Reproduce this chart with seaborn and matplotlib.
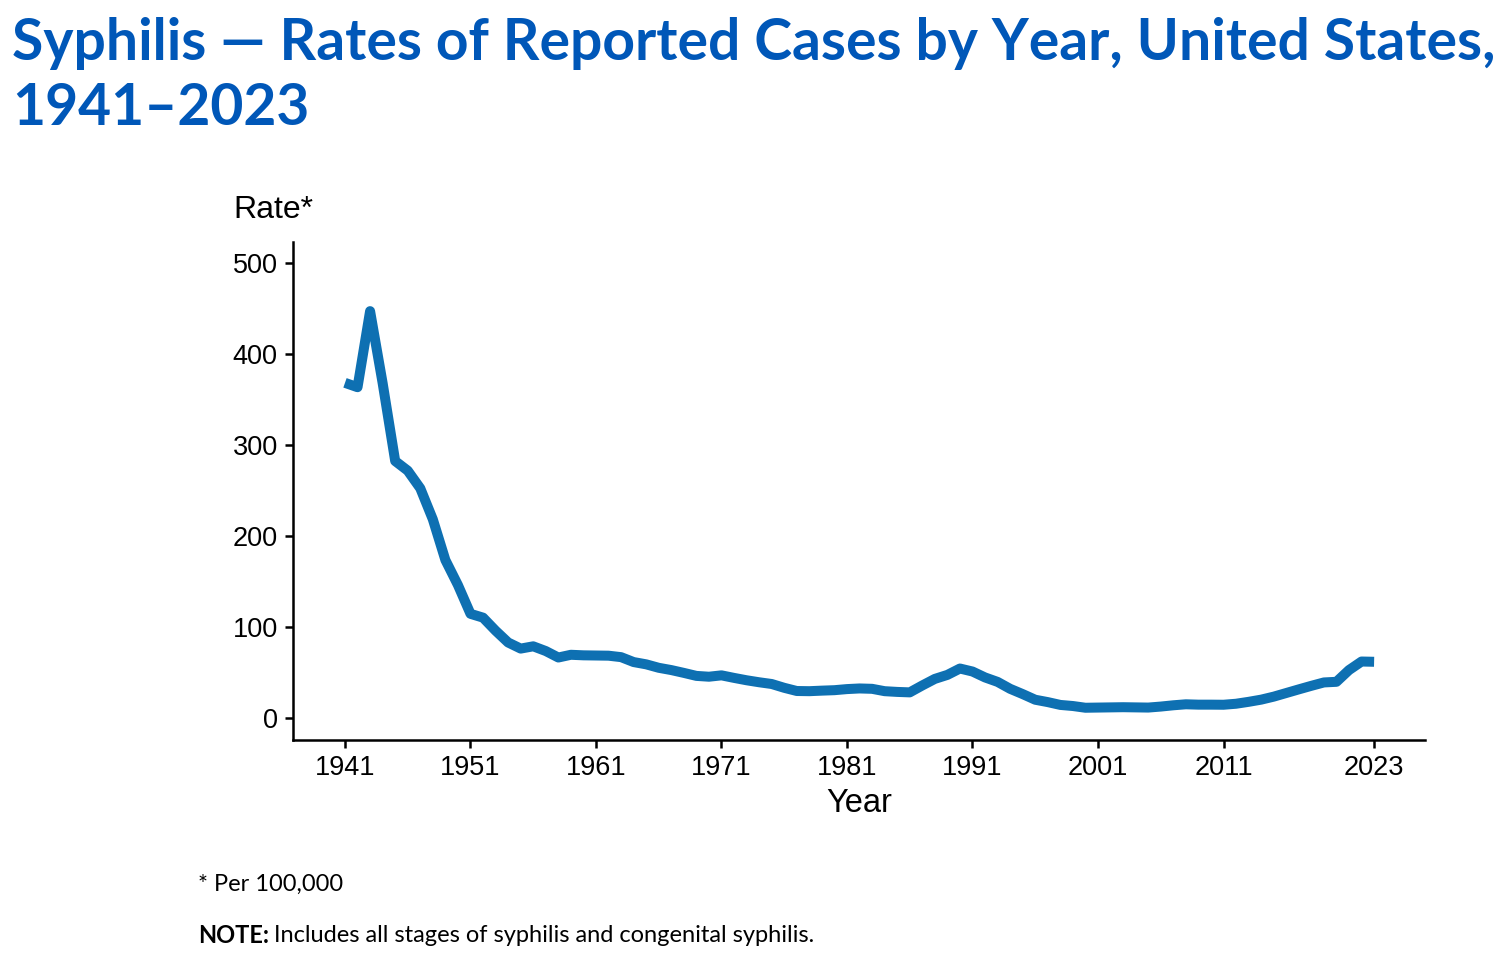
import matplotlib
matplotlib.use("Agg")
import matplotlib.pyplot as plt
import seaborn as sns
import pandas as pd

# Syphilis, all stages, rate per 100,000
years = list(range(1941, 2024))
rates = [368.2, 363.4, 447.0, 367.9, 282.3, 271.7, 252.3, 218.2, 173.5, 146.0,
         114.4, 110.2, 95.9, 82.9, 76.2, 78.7, 73.5, 66.4, 69.4, 68.8,
         68.6, 68.4, 66.8, 61.4, 58.9, 55.1, 52.6, 49.5, 46.2, 45.3,
         46.8, 44.0, 41.4, 39.2, 37.3, 33.1, 29.6, 29.4, 30.0, 30.5,
         31.7, 32.4, 32.0, 29.4, 28.6, 28.1, 35.7, 42.9, 47.3, 54.3,
         51.0, 44.5, 39.6, 32.0, 26.2, 20.0, 17.4, 14.3, 13.1, 11.2,
         11.4, 11.6, 11.8, 11.6, 11.4, 12.5, 13.9, 15.0, 14.6, 14.6,
         14.5, 15.6, 17.7, 20.1, 23.4, 27.4, 31.4, 35.3, 39.0, 39.7,
         52.6, 62.0, 61.7]
x_ticks = [1941, 1951, 1961, 1971, 1981, 1991, 2001, 2011, 2023]
y_ticks = [0, 100, 200, 300, 400, 500]

df = pd.DataFrame({"Year": years, "Rate": rates})

sns.set_theme(style="ticks")
plt.rcParams['font.family'] = ['Liberation Sans', 'DejaVu Sans']

fig = plt.figure(figsize=(15.12, 9.64), dpi=100)
ax = fig.add_axes([0.1938, 0.2324, 0.7487, 0.5166])

sns.lineplot(data=df, x="Year", y="Rate", ax=ax, color="#0E70B2", linewidth=7.2,
             solid_capstyle="butt", solid_joinstyle="round")

ax.set_xlim(1936.86, 2027.06)
ax.set_ylim(-24.2, 523)
ax.set_xticks(x_ticks)
ax.set_yticks(y_ticks)
ax.tick_params(axis="both", labelsize=19.5, length=6, width=1.8, color="black",
               labelcolor="black", direction="out", pad=5)
for s in ["left", "bottom"]:
    ax.spines[s].set_linewidth(1.8)
    ax.spines[s].set_color("black")
sns.despine(ax=ax)

ax.set_xlabel("Year", fontsize=23.5, labelpad=5, color="black")
ax.set_ylabel("")
fig.text(0.1545, 0.782, "Rate*", fontsize=23, color="black", ha="left", va="center")

title_font = ['Lato', 'DejaVu Sans']
fig.text(0.008, 0.955, "Syphilis \u2014 Rates of Reported Cases by Year, United States,",
         fontsize=41, fontweight="bold", color="#0057B8", family=title_font,
         ha="left", va="center")
fig.text(0.008, 0.887, "1941\u20132023", fontsize=41, fontweight="bold",
         color="#0057B8", family=title_font, ha="left", va="center")

fig.text(0.131, 0.083, "* Per 100,000", fontsize=17, color="black",
         family=title_font, ha="left", va="center")
note = fig.text(0.131, 0.030, "NOTE:", fontsize=17, color="black", fontweight="bold",
                family=title_font, ha="left", va="center")
fig.canvas.draw()
bb = note.get_window_extent()
fig.text(bb.x1 / fig.bbox.width + 0.003, 0.030,
         "Includes all stages of syphilis and congenital syphilis.",
         fontsize=17, color="black", family=title_font, ha="left", va="center")

fig.savefig("out.png", dpi=100)
